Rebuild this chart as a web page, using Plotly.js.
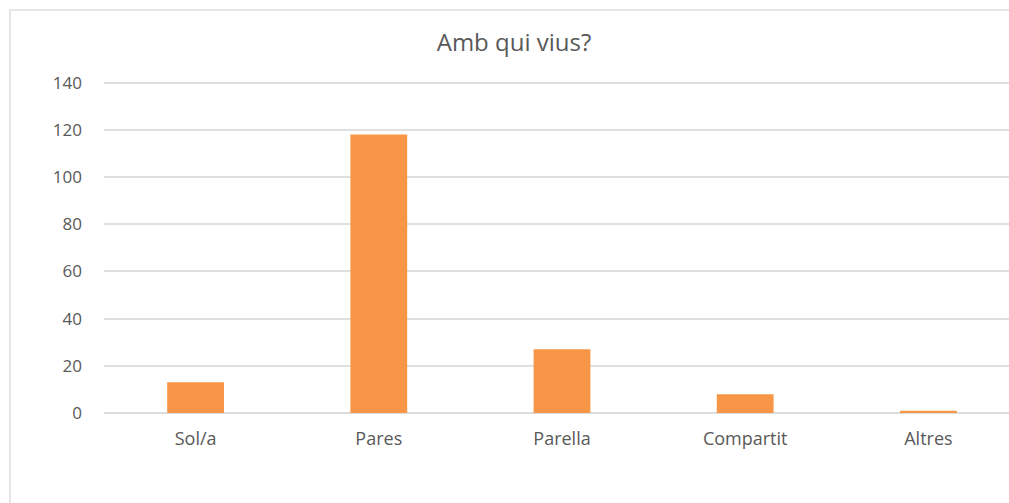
<!DOCTYPE html>
<html>
<head>
<meta charset="utf-8">
<script src="https://cdn.plot.ly/plotly-3.0.1.min.js"></script>
<style>
html,body{margin:0;padding:0;overflow:hidden;background:#fff;width:1009px;height:503px;}
#frame{position:absolute;left:9px;top:9px;width:1060px;height:560px;border:2px solid #e6e6e6;box-sizing:border-box;}
#chart{position:absolute;left:0;top:0;width:1040px;height:503px;}
</style>
</head>
<body>
<div id="frame"></div>
<div id="chart"></div>
<script>
const categories = ["Sol/a", "Pares", "Parella", "Compartit", "Altres"];
const values = [13, 118, 27, 8, 1];
const yTicks = [0, 20, 40, 60, 80, 100, 120, 140];
const chartTitle = "Amb qui vius?";

const font = "Open Sans, Liberation Sans, sans-serif";
Plotly.newPlot("chart", [{
  type: "bar",
  x: categories,
  y: values,
  marker: {color: "#F79646", line: {width: 0}},
  hoverinfo: "x+y"
}], {
  width: 1040,
  height: 503,
  margin: {l: 104, r: 20, t: 78, b: 90},
  paper_bgcolor: "rgba(0,0,0,0)",
  plot_bgcolor: "rgba(0,0,0,0)",
  bargap: 0.69,
  showlegend: false,
  title: {
    text: chartTitle,
    font: {family: font, size: 24, color: "#595959"},
    xref: "container", x: 514/1040, xanchor: "center",
    yref: "container", y: 1 - 43/503, yanchor: "middle"
  },
  xaxis: {
    type: "category",
    showgrid: false,
    showline: false,
    zeroline: false,
    ticks: "",
    tickfont: {family: font, size: 18, color: "#595959"},
    ticklabelstandoff: 13
  },
  yaxis: {
    range: [0, 142],
    tickvals: yTicks,
    ticktext: yTicks.map(String),
    showgrid: true,
    gridcolor: "#e0e0e0",
    gridwidth: 2,
    zeroline: true,
    zerolinecolor: "#dcdcdc",
    zerolinewidth: 2,
    showline: false,
    ticks: "",
    tickfont: {family: font, size: 17, color: "#595959"},
    ticklabelstandoff: 21
  }
}, {displayModeBar: false, staticPlot: true});
</script>
</body>
</html>
